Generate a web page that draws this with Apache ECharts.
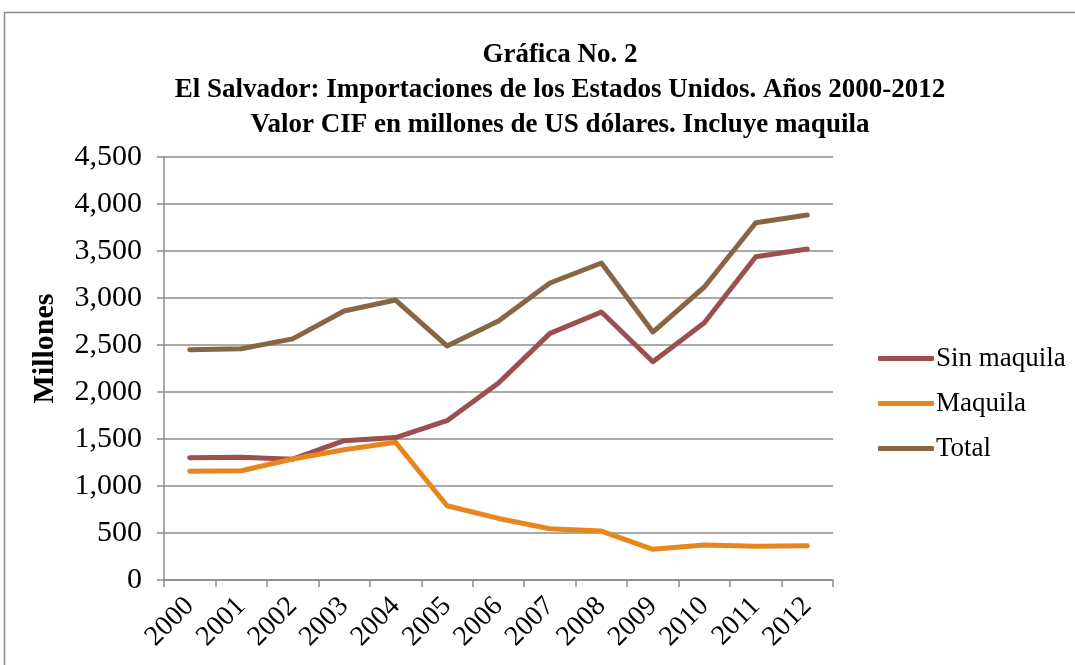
<!DOCTYPE html>
<html>
<head>
<meta charset="utf-8">
<script src="https://cdn.jsdelivr.net/npm/echarts@6/dist/echarts.min.js"></script>
<style>
html,body{margin:0;padding:0;background:#fff;}
#chart{width:1075px;height:665px;}
</style>
</head>
<body>
<div id="chart"></div>
<script>
var years = ['2000','2001','2002','2003','2004','2005','2006','2007','2008','2009','2010','2011','2012'];
var sinMaquila = [1300, 1305, 1285, 1482, 1515, 1695, 2095, 2624, 2851, 2322, 2737, 3439, 3521];
var maquila = [1156, 1162, 1287, 1385, 1465, 790, 655, 545, 521, 326, 372, 358, 365];
var total = [2450, 2460, 2565, 2862, 2978, 2490, 2755, 3160, 3372, 2638, 3117, 3801, 3883];
var yTicks = {min: 0, max: 4500, interval: 500};
var titleLines = ['Gráfica No. 2', 'El Salvador: Importaciones de los Estados Unidos. Años 2000-2012', 'Valor CIF en millones de US dólares. Incluye maquila'];

var serif = '"Liberation Serif", "Times New Roman", serif';
var chart = echarts.init(document.getElementById('chart'), null, {renderer: 'canvas'});
function fmt(v){ return v.toString().replace(/\B(?=(\d{3})+(?!\d))/g, ','); }
chart.setOption({
  backgroundColor: '#fff',
  animation: false,
  graphic: [{
    type: 'rect', silent: true, z: -1,
    shape: {x: 4.5, y: 12.5, width: 1100, height: 700},
    style: {fill: 'none', stroke: '#8a8a8a', lineWidth: 1.5}
  }],
  title: {
    text: titleLines.join('\n'),
    left: 555, top: 33, textAlign: 'center',
    textStyle: {fontFamily: serif, fontWeight: 'bold', fontSize: 27, lineHeight: 35, color: '#000'}
  },
  legend: {
    orient: 'vertical', left: 873, top: 340,
    itemWidth: 56, itemHeight: 5, itemGap: 18,
    icon: 'roundRect',
    textStyle: {fontFamily: serif, fontSize: 27, color: '#000', padding: [0,0,0,-3]},
    data: ['Sin maquila', 'Maquila', 'Total']
  },
  grid: {left: 164, right: 242, top: 157, bottom: 85, containLabel: false},
  xAxis: {
    type: 'category', data: years, boundaryGap: true,
    axisLine: {lineStyle: {color: '#8c8c8c', width: 1.5}},
    axisTick: {show: true, length: 7, inside: false, alignWithLabel: false, lineStyle: {color: '#8c8c8c', width: 1.5}},
    axisLabel: {rotate: 45, margin: 22, fontFamily: serif, fontSize: 28, color: '#000', interval: 0}
  },
  yAxis: {
    type: 'value', min: yTicks.min, max: yTicks.max, interval: yTicks.interval,
    name: 'Millones', nameLocation: 'middle', nameGap: 104, nameRotate: 90,
    nameTextStyle: {fontFamily: serif, fontWeight: 'bold', fontSize: 30, color: '#000', padding: [0,0,0,40]},
    axisLine: {show: true, lineStyle: {color: '#8c8c8c', width: 1.5}},
    axisTick: {show: true, length: 7, lineStyle: {color: '#8c8c8c', width: 1.5}},
    axisLabel: {margin: 22, fontFamily: serif, fontSize: 30, color: '#000', formatter: fmt},
    splitLine: {show: true, lineStyle: {color: '#8c8c8c', width: 1.5}}
  },
  series: [
    {name: 'Sin maquila', type: 'line', data: sinMaquila, symbol: 'none', itemStyle: {color: '#9c4f4f'}, lineStyle: {color: '#9c4f4f', width: 5, cap: 'round', join: 'round'}},
    {name: 'Maquila', type: 'line', data: maquila, symbol: 'none', itemStyle: {color: '#e8861e'}, lineStyle: {color: '#e8861e', width: 5, cap: 'round', join: 'round'}},
    {name: 'Total', type: 'line', data: total, symbol: 'none', itemStyle: {color: '#886644'}, lineStyle: {color: '#886644', width: 5, cap: 'round', join: 'round'}}
  ]
});
</script>
</body>
</html>
